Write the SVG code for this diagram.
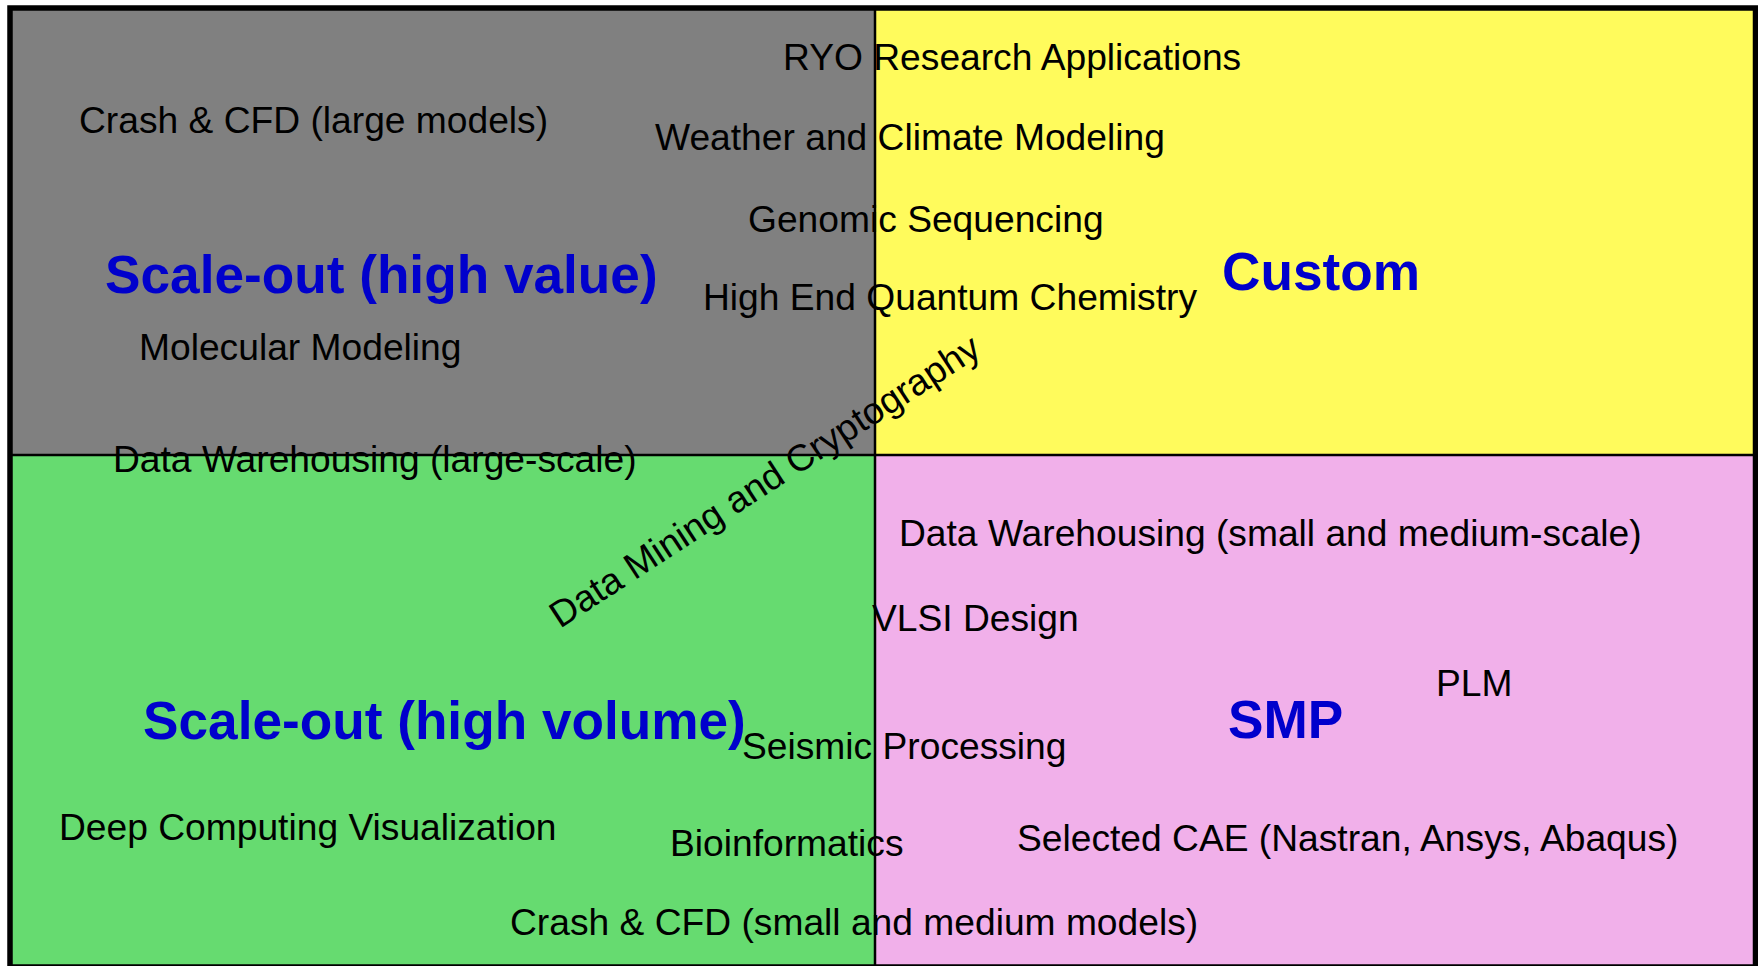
<svg xmlns="http://www.w3.org/2000/svg" width="1758" height="966" viewBox="0 0 1758 966">
  <style>
    .lbl { font-family: "Liberation Sans", Arial, sans-serif; font-size: 37.2px; fill: #000000; }
    .ttl { font-family: "Liberation Sans", Arial, sans-serif; font-size: 53.2px; font-weight: bold; fill: #0000CC; }
    .div { stroke: #000000; stroke-width: 2.5; fill: none; }
  </style>

  <!-- quadrant backgrounds -->
  <g id="quadrants">
    <rect id="q-high-value" x="10" y="8" width="865" height="447" fill="#808080"/>
    <rect id="q-custom" x="875" y="8" width="880" height="447" fill="#FFFB5C"/>
    <rect id="q-high-volume" x="10" y="455" width="865" height="512" fill="#66DB70"/>
    <rect id="q-smp" x="875" y="455" width="880" height="512" fill="#F1B0EA"/>
  </g>

  <!-- dividing lines and frame -->
  <g id="frame">
    <line class="div" x1="10" y1="455" x2="1755" y2="455"/>
    <line class="div" x1="875" y1="8" x2="875" y2="967"/>
    <rect x="10" y="8" width="1745.5" height="959" fill="none" stroke="#000000" stroke-width="5.5"/>
  </g>

  <!-- quadrant titles -->
  <g id="titles">
    <text id="t-high-value" class="ttl" x="105" y="293">Scale-out (high value)</text>
    <text id="t-custom" class="ttl" x="1222" y="290">Custom</text>
    <text id="t-high-volume" class="ttl" x="143" y="739">Scale-out (high volume)</text>
    <text id="t-smp" class="ttl" x="1228" y="738">SMP</text>
  </g>

  <!-- application labels -->
  <g id="applications">
    <g id="ryo"><text class="lbl" x="783" y="70">RYO Research Applications</text></g>
    <g id="weather"><text class="lbl" x="655" y="150">Weather and Climate Modeling</text></g>
    <g id="genomic"><text class="lbl" x="748" y="232">Genomic Sequencing</text></g>
    <g id="quantum"><text class="lbl" x="703" y="310">High End Quantum Chemistry</text></g>
    <g id="crash-large"><text class="lbl" x="79" y="133">Crash &amp; CFD (large models)</text></g>
    <g id="molecular"><text class="lbl" x="139" y="360">Molecular Modeling</text></g>
    <g id="dw-large"><text class="lbl" x="113" y="472">Data Warehousing (large-scale)</text></g>
    <g id="data-mining"><text class="lbl" x="560" y="629" transform="rotate(-33 560 629)">Data Mining and Cryptography</text></g>
    <g id="dw-small"><text class="lbl" x="899" y="546">Data Warehousing (small and medium-scale)</text></g>
    <g id="vlsi"><text class="lbl" x="872" y="631">VLSI Design</text></g>
    <g id="plm"><text class="lbl" x="1436" y="696">PLM</text></g>
    <g id="seismic"><text class="lbl" x="742" y="759">Seismic Processing</text></g>
    <g id="dcv"><text class="lbl" x="59" y="840">Deep Computing Visualization</text></g>
    <g id="bioinformatics"><text class="lbl" x="670" y="856">Bioinformatics</text></g>
    <g id="cae"><text class="lbl" x="1017" y="851">Selected CAE (Nastran, Ansys, Abaqus)</text></g>
    <g id="crash-small"><text class="lbl" x="510" y="935">Crash &amp; CFD (small and medium models)</text></g>
  </g>

  <g id="connectors"/>
</svg>
